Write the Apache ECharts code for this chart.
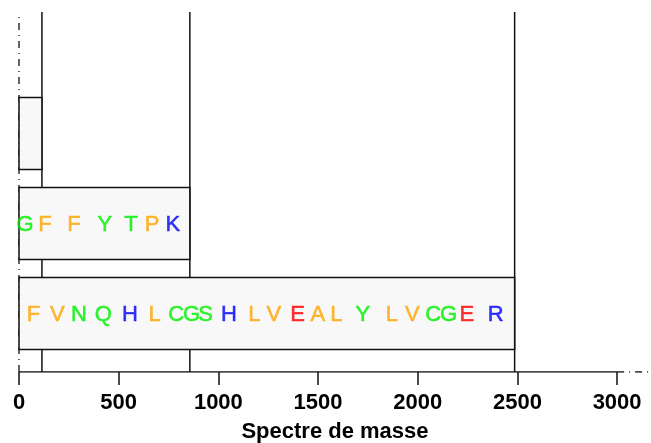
<!DOCTYPE html>
<html>
<head>
<meta charset="utf-8">
<script src="https://cdn.jsdelivr.net/npm/echarts@6/dist/echarts.min.js"></script>
<style>
  html, body { margin: 0; padding: 0; background: #fff; }
  #chart { width: 651px; height: 443px; }
</style>
</head>
<body>
<div id="chart"></div>
<script>
// fragment ends (masse) for each row, top row first
var rowNames = ['f1', 'f2', 'f3'];
var rowEnds = [115, 857, 2486];
var rowLevel = [3, 2, 1];

// residues of row 2 and row 3 with their positions on the mass axis
var seq2 = ['G', 'F', 'F', 'Y', 'T', 'P', 'K'];
var pos2 = [30, 130, 276, 431, 561, 667, 772];
var seq3 = ['F', 'V', 'N', 'Q', 'H', 'L', 'C', 'G', 'S', 'H', 'L', 'V', 'E', 'A', 'L', 'Y', 'L', 'V', 'C', 'G', 'E', 'R'];
var pos3 = [72, 192, 301, 423, 556, 680, 788, 866, 936, 1053, 1181, 1278, 1397, 1499, 1592, 1724, 1870, 1973, 2077, 2155, 2246, 2391];

var xTicks = [0, 500, 1000, 1500, 2000, 2500, 3000];
var xMax = 3170;
var yMin = 0.35, yMax = 4.35;

// couleurs par type de résidu
var resColor = {
  F: '#FFA500', V: '#FFA500', L: '#FFA500', A: '#FFA500', P: '#FFA500', I: '#FFA500', M: '#FFA500', W: '#FFA500',
  N: '#00F000', Q: '#00F000', C: '#00F000', G: '#00F000', S: '#00F000', Y: '#00F000', T: '#00F000',
  H: '#0000FF', K: '#0000FF', R: '#0000FF',
  E: '#FF0000', D: '#FF0000'
};

var font = 'Liberation Sans, Arial, Helvetica, sans-serif';

function letterData(seq, pos, level) {
  return seq.map(function (s, i) {
    return {
      value: [pos[i], level], name: s,
      label: { color: resColor[s], textBorderColor: resColor[s] }
    };
  });
}

var series = [];

// vertical cut lines
rowEnds.forEach(function (c) {
  series.push({
    type: 'line', z: 1, symbol: 'none', silent: true,
    data: [[c, yMin], [c, yMax]],
    lineStyle: { color: '#111', width: 1.5 }
  });
});

// box lines (axis + dash-dot frame)
series.push({
  type: 'line', z: 1, symbol: 'none', silent: true,
  data: [[0, yMin], [xTicks[xTicks.length - 1], yMin]],
  lineStyle: { color: '#111', width: 1.5 }
});
series.push({
  type: 'line', z: 1, symbol: 'none', silent: true,
  data: [[xTicks[xTicks.length - 1], yMin], [xMax, yMin]],
  lineStyle: { color: '#111', width: 1.3, type: [7, 5, 1, 5] }
});
series.push({
  type: 'line', z: 1, symbol: 'none', silent: true,
  data: [[0, yMin], [0, yMax]],
  lineStyle: { color: '#111', width: 1.3, type: [7, 5, 1, 5] }
});

// fragment boxes
series.push({
  type: 'custom', z: 2, silent: true,
  data: rowEnds.map(function (e, i) { return [e, rowLevel[i]]; }),
  renderItem: function (params, api) {
    var p0 = api.coord([0, api.value(1) + 0.4]);
    var p1 = api.coord([api.value(0), api.value(1) - 0.4]);
    return {
      type: 'rect',
      shape: { x: p0[0], y: p0[1], width: p1[0] - p0[0], height: p1[1] - p0[1] },
      style: { fill: '#f8f8f8', stroke: '#111', lineWidth: 1.5 }
    };
  }
});

// residue letters
[[seq2, pos2, 2], [seq3, pos3, 1]].forEach(function (r) {
  series.push({
    type: 'scatter', z: 3, silent: true,
    symbolSize: 1, itemStyle: { color: 'rgba(0,0,0,0)' },
    data: letterData(r[0], r[1], r[2]),
    label: {
      show: true, position: 'inside', offset: [0, 1],
      formatter: function (p) { return p.name; },
      fontFamily: font, fontSize: 22, textBorderWidth: 0.5
    }
  });
});

var myChart = echarts.init(document.getElementById('chart'));
myChart.setOption({
  animation: false,
  grid: { left: 19, right: 0, top: 12, bottom: 71, outerBoundsMode: 'none' },
  xAxis: {
    type: 'value', min: 0, max: xMax,
    name: 'Spectre de masse', nameLocation: 'middle', nameGap: 49,
    nameTextStyle: { fontFamily: font, fontSize: 22, fontWeight: 'bold', color: '#000' },
    axisLine: { show: false },
    splitLine: { show: false },
    axisTick: { show: true, length: 13, customValues: xTicks, lineStyle: { color: '#111', width: 1.5 } },
    axisLabel: {
      customValues: xTicks, margin: 20,
      formatter: function (v) { return String(v); },
      fontFamily: font, fontSize: 22, fontWeight: 'bold', color: '#000'
    }
  },
  yAxis: {
    type: 'value', min: yMin, max: yMax, show: false
  },
  series: series
});
</script>
</body>
</html>
